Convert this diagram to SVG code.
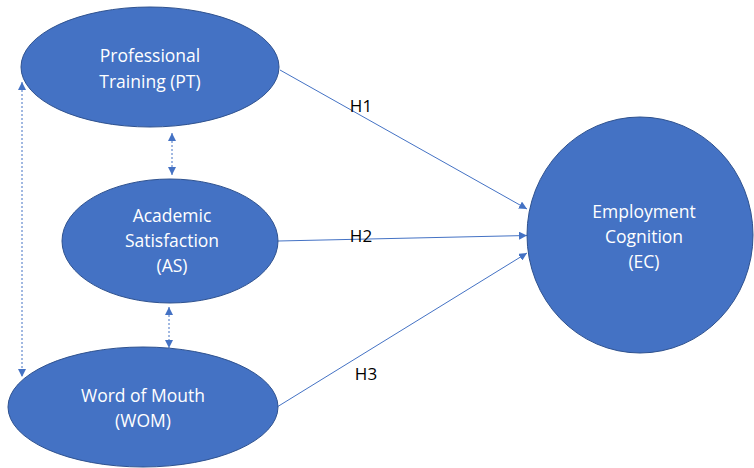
<svg xmlns="http://www.w3.org/2000/svg" width="754" height="468" viewBox="0 0 754 468">
<style>
.node{fill:#4472C4;stroke:#2F528F;stroke-width:1}
.lbl{fill:#fff;font-family:"Open Sans","Noto Sans",sans-serif;font-size:17.5px;text-anchor:middle}
.hl{fill:#000;font-family:"Open Sans","Noto Sans",sans-serif;font-size:17px;text-anchor:middle}
.edge{stroke:#4472C4;stroke-width:1;fill:none}
.dash{stroke:#4472C4;stroke-width:1;fill:none;stroke-dasharray:2 2}
</style>
<defs>
<marker id="ah" viewBox="0 0 10 10" refX="10" refY="5" markerWidth="8" markerHeight="8" markerUnits="userSpaceOnUse" orient="auto-start-reverse">
<path d="M0,0 L10,5 L0,10 z" fill="#4472C4"/>
</marker>
</defs>
<g id="connectors">
<line class="edge" x1="280" y1="70" x2="527" y2="209" marker-end="url(#ah)"/>
<line class="edge" x1="278" y1="241" x2="527" y2="235.5" marker-end="url(#ah)"/>
<line class="edge" x1="277" y1="407" x2="527" y2="253" marker-end="url(#ah)"/>
<line class="dash" x1="22" y1="82" x2="22" y2="377" marker-start="url(#ah)" marker-end="url(#ah)"/>
<line class="dash" x1="172" y1="133" x2="172" y2="175" marker-start="url(#ah)" marker-end="url(#ah)"/>
<line class="dash" x1="169" y1="307" x2="169" y2="348" marker-start="url(#ah)" marker-end="url(#ah)"/>
<text class="hl" x="361" y="112">H1</text>
<text class="hl" x="361" y="242">H2</text>
<text class="hl" x="366" y="380">H3</text>
</g>
<g id="PT">
<ellipse class="node" cx="150" cy="67" rx="129" ry="60"/>
<text class="lbl" x="150" y="62">Professional</text>
<text class="lbl" x="150" y="88">Training (PT)</text>
</g>
<g id="AS">
<ellipse class="node" cx="170" cy="241" rx="108" ry="62"/>
<text class="lbl" x="172" y="222">Academic</text>
<text class="lbl" x="172" y="247">Satisfaction</text>
<text class="lbl" x="172" y="272">(AS)</text>
</g>
<g id="WOM">
<ellipse class="node" cx="143" cy="407" rx="135" ry="60"/>
<text class="lbl" x="143" y="402">Word of Mouth</text>
<text class="lbl" x="143" y="427">(WOM)</text>
</g>
<g id="EC">
<ellipse class="node" cx="640" cy="235" rx="113" ry="118"/>
<text class="lbl" x="644" y="218">Employment</text>
<text class="lbl" x="644" y="243">Cognition</text>
<text class="lbl" x="644" y="268">(EC)</text>
</g>
</svg>
